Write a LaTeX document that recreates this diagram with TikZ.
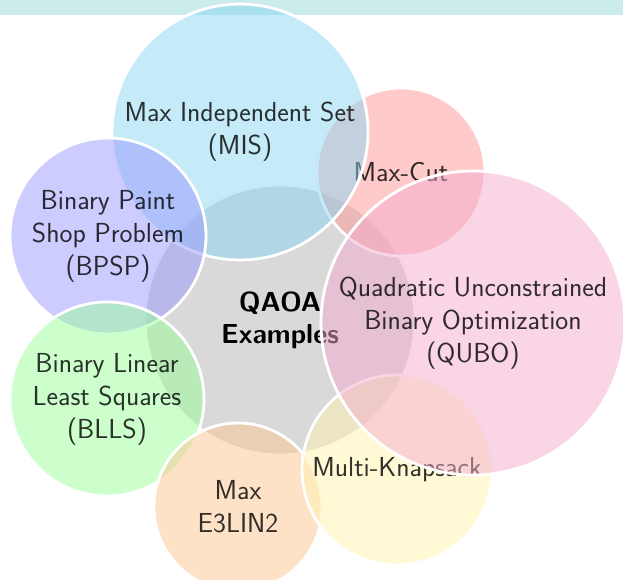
\documentclass[tikz,border=0pt]{standalone}
\usepackage{tikz}
\definecolor{bandc}{RGB}{204,236,236}
\definecolor{cCenter}{RGB}{179,179,179}
\definecolor{cCut}{RGB}{255,150,150}
\definecolor{cMIS}{RGB}{139,213,241}
\definecolor{cBPSP}{RGB}{153,153,255}
\definecolor{cBLLS}{RGB}{153,255,153}
\definecolor{cE3}{RGB}{253,197,145}
\definecolor{cMK}{RGB}{255,243,173}
\definecolor{cQUBO}{RGB}{243,171,205}
\tikzset{
  bubble/.style={circle, draw=white, line width=2.8pt, fill opacity=0.5,
    text opacity=0.8, text=black, inner sep=0pt, align=center,
    font=\sffamily\fontsize{27.5}{33}\selectfont},
  centerbubble/.style={bubble, text opacity=1,
    font=\sffamily\bfseries\fontsize{27.5}{32}\selectfont},
}
\begin{document}
\begin{tikzpicture}[x=1pt,y=-1pt]
\useasboundingbox (0,0) rectangle (623,579);
\fill[bandc] (0,0) rectangle (623,15);
\node[centerbubble, fill=cCenter, minimum size=270pt] (qaoa) at (280,320) {QAOA\\Examples};
\node[bubble, fill=cCut, minimum size=168pt] (maxcut) at (401,172) {Max-Cut};
\node[bubble, fill=cMIS, minimum size=256pt] (mis) at (240,132) {Max Independent Set\\(MIS)};
\node[bubble, fill=cBPSP, minimum size=196pt] (bpsp) at (108,236) {Binary Paint\\Shop Problem\\(BPSP)};
\node[bubble, fill=cBLLS, minimum size=194pt] (blls) at (107,399) {Binary Linear\\Least Squares\\(BLLS)};
\node[bubble, fill=cE3, minimum size=168pt] (e3lin) at (238,507) {Max\\E3LIN2};
\node[bubble, fill=cMK, minimum size=190pt] (mk) at (397,470) {Multi-Knapsack};
\node[bubble, fill=cQUBO, minimum size=304pt] (qubo) at (473,323) {Quadratic Unconstrained\\Binary Optimization\\(QUBO)};
\end{tikzpicture}
\end{document}
